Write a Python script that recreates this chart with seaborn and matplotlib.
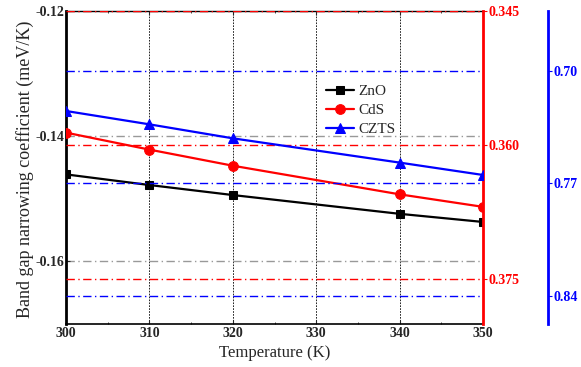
import matplotlib
matplotlib.use("Agg")
import matplotlib.pyplot as plt
import seaborn as sns
import pandas as pd

temperature = [300, 310, 320, 340, 350]
zno = [-0.1461, -0.1478, -0.1494, -0.1524, -0.1537]
cds = [0.3586, 0.3605, 0.3623, 0.3655, 0.3669]
czts = [0.7249, 0.7332, 0.7419, 0.7570, 0.7647]

x_ticks = [300, 310, 320, 330, 340, 350]
left_ticks = [-0.12, -0.14, -0.16]
red_ticks = [0.345, 0.360, 0.375]
blue_ticks = [0.70, 0.77, 0.84]

sns.set_style("white")
plt.rcParams['font.family'] = ['Liberation Serif', 'DejaVu Serif']

fig = plt.figure(figsize=(5.81, 3.67), dpi=100)
ax1 = fig.add_axes([66/581, 1 - 324/367, (483-66)/581, (324-11)/367])
ax2 = ax1.twinx()
ax3 = ax1.twinx()

# spines first (set_position resets tick label properties)
for s in ax1.spines.values():
    s.set_visible(True)
    s.set_color("black")
ax1.spines["left"].set_linewidth(2.0)
ax1.spines["top"].set_linewidth(1.0)
ax1.spines["bottom"].set_linewidth(1.2)
ax1.spines["right"].set_visible(False)

for s in ("left", "top", "bottom"):
    ax2.spines[s].set_visible(False)
    ax3.spines[s].set_visible(False)
ax2.spines["right"].set_visible(True)
ax2.spines["right"].set_color("red")
ax2.spines["right"].set_linewidth(2.0)
ax3.spines["right"].set_visible(True)
ax3.spines["right"].set_position(("outward", 47))
ax3.spines["right"].set_color("blue")
ax3.spines["right"].set_linewidth(2.0)

df1 = pd.DataFrame({"T": temperature, "v": zno})
df2 = pd.DataFrame({"T": temperature, "v": cds})
df3 = pd.DataFrame({"T": temperature, "v": czts})

sns.lineplot(data=df1, x="T", y="v", ax=ax1, color="black", marker="s",
             markersize=6, lw=1.6, markeredgecolor="black", legend=False)
sns.lineplot(data=df2, x="T", y="v", ax=ax2, color="red", marker="o",
             markersize=7, lw=1.6, markeredgecolor="red", legend=False)
sns.lineplot(data=df3, x="T", y="v", ax=ax3, color="blue", marker="^",
             markersize=7, lw=1.6, markeredgecolor="blue", legend=False)

for a in (ax1, ax2, ax3):
    a.set_xlim(300, 350)
    a.set_xlabel("")
    a.set_ylabel("")

ax1.set_ylim(-0.17, -0.12)
ax2.set_ylim(0.3800, 0.345)
ax3.set_ylim(0.8574, 0.6627)

ax1.set_xticks(x_ticks)
ax1.set_xticklabels([str(t) for t in x_ticks], fontweight="bold", fontsize=10)
ax1.set_xticks([305, 315, 325, 335, 345], minor=True)
ax1.set_yticks(left_ticks)
ax1.set_yticklabels([f"{t:.2f}" for t in left_ticks], fontweight="bold", fontsize=10)
ax2.set_yticks(red_ticks)
ax2.set_yticklabels([f"{t:.3f}" for t in red_ticks], fontweight="bold", fontsize=10, color="red")
ax3.set_yticks(blue_ticks)
ax3.set_yticklabels([f"{t:.2f}" for t in blue_ticks], fontweight="bold", fontsize=10, color="blue")

ax1.tick_params(axis="x", which="both", direction="in", length=3, pad=2, top=True, bottom=True)
ax1.tick_params(axis="x", which="minor", length=1.5)
ax1.tick_params(axis="y", direction="in", length=3, pad=1)
ax2.tick_params(axis="y", direction="out", length=3, pad=1, color="red", labelcolor="red")
ax3.tick_params(axis="y", direction="out", length=3, pad=1, color="blue", labelcolor="blue")

dd = (0, (6, 2.5, 1, 2.5))
ax1.yaxis.grid(True, color="#999999", linestyle=dd, lw=1.0)
ax1.xaxis.grid(True, color="black", linestyle=(0, (2, 1.5)), lw=0.6)
ax2.yaxis.grid(True, color="red", linestyle=dd, lw=1.0)
ax3.yaxis.grid(True, color="blue", linestyle=dd, lw=1.0)
ax2.xaxis.grid(False)
ax3.xaxis.grid(False)

ax1.set_xlabel("Temperature (K)", fontsize=12, labelpad=4)
ax1.set_ylabel("Band gap narrowing coefficient (meV/K)", fontsize=13)
ax1.yaxis.set_label_coords(-0.076, 0.495)

handles = [ax1.lines[0], ax2.lines[0], ax3.lines[0]]
labels = ["ZnO", "CdS", "CZTS"]
ax3.legend(handles, labels, loc="upper left", bbox_to_anchor=(0.598, 0.80),
           frameon=False, fontsize=11, handlelength=1.8, handletextpad=0.3,
           labelspacing=0.35, borderpad=0.2)

fig.savefig("out.png", dpi=100)
